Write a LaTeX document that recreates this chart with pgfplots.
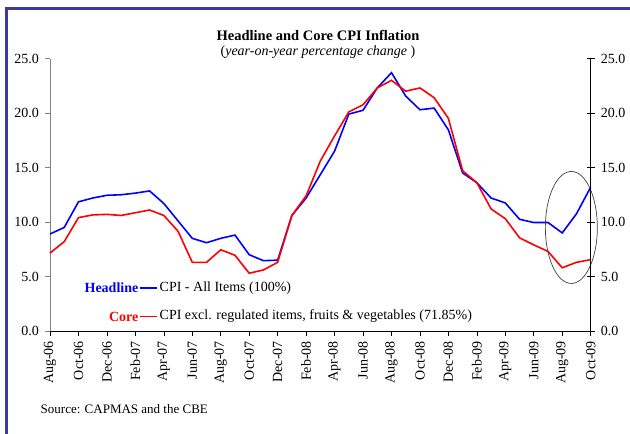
\documentclass[border=0pt]{standalone}
\usepackage{pgfplots}
\pgfplotsset{compat=1.18}
\usepackage{fontspec}
\setmainfont{Liberation Serif}
\definecolor{framecol}{RGB}{58,58,160}
\definecolor{cpiblue}{RGB}{0,0,255}
\definecolor{cpired}{RGB}{255,0,0}
\begin{document}
\fontsize{14}{17}\selectfont
\begin{tikzpicture}[x=1pt,y=1pt]
\useasboundingbox (0,0) rectangle (630,-434);
\draw[framecol, line width=2.6pt] (631,-8.5) -- (6.3,-8.5) -- (6.3,-435);
\node[font=\fontsize{14.5}{17}\selectfont\bfseries] at (318,-35) {Headline and Core CPI Inflation};
\node[font=\fontsize{14}{17}\selectfont] at (318,-52.5) {(\textit{year-on-year percentage change })};
\begin{axis}[
  at={(50pt,-331pt)}, anchor=south west,
  scale only axis, width=540.7pt, height=272.5pt,
  xmin=0, xmax=38, ymin=0, ymax=25,
  axis x line*=bottom, axis y line*=left,
  x axis line style={-, black, line width=0.6pt},
  y axis line style={-, gray, line width=0.9pt},
  xtick={0,2,...,38},
  xticklabels={Aug-06,Oct-06,Dec-06,Feb-07,Apr-07,Jun-07,Aug-07,Oct-07,Dec-07,Feb-08,Apr-08,Jun-08,Aug-08,Oct-08,Dec-08,Feb-09,Apr-09,Jun-09,Aug-09,Oct-09},
  xticklabel style={yshift=-4pt, rotate=90, anchor=east, font=\fontsize{14}{16}\selectfont, inner sep=1pt},
  x tick style={black, line width=0.6pt},
  ytick={0,5,...,25},
  y tick style={gray, line width=0.9pt},
  yticklabel style={xshift=-5pt, font=\fontsize{14}{16}\selectfont, inner sep=1pt},
  /pgf/number format/.cd, fixed, fixed zerofill, precision=1, assume math mode=true,
  /pgfplots/.cd,
  tick align=outside, major tick length=5pt,
  clip=false,
]
\addplot[cpiblue, line width=1.6pt] coordinates {
(0,8.9) (1,9.5) (2,11.85) (3,12.2) (4,12.45) (5,12.5) (6,12.65) (7,12.85)
(8,11.7) (9,10.1) (10,8.5) (11,8.1) (12,8.5) (13,8.8) (14,7.0) (15,6.45)
(16,6.5) (17,10.6) (18,12.2) (19,14.35) (20,16.5) (21,19.9) (22,20.25)
(23,22.3) (24,23.7) (25,21.55) (26,20.3) (27,20.45) (28,18.45) (29,14.5)
(30,13.6) (31,12.2) (32,11.75) (33,10.25) (34,9.95) (35,9.95) (36,9.0)
(37,10.75) (38,13.2)};
\addplot[cpired, line width=1.6pt] coordinates {
(0,7.15) (1,8.2) (2,10.4) (3,10.65) (4,10.7) (5,10.6) (6,10.85) (7,11.1)
(8,10.6) (9,9.15) (10,6.3) (11,6.3) (12,7.45) (13,6.95) (14,5.3) (15,5.6)
(16,6.3) (17,10.6) (18,12.4) (19,15.6) (20,17.9) (21,20.1) (22,20.75)
(23,22.3) (24,23.0) (25,22.0) (26,22.3) (27,21.4) (28,19.5) (29,14.7)
(30,13.6) (31,11.2) (32,10.3) (33,8.55) (34,7.9) (35,7.3) (36,5.8)
(37,6.3) (38,6.55)};
\draw[black!75, line width=0.7pt] (axis cs:36.64,9.5) ellipse [x radius=26pt, y radius=56pt];
\end{axis}
\begin{axis}[
  at={(50pt,-331pt)}, anchor=south west,
  scale only axis, width=540.7pt, height=272.5pt,
  xmin=0, xmax=38, ymin=0, ymax=25,
  axis x line=none, axis y line*=right,
  y axis line style={-, black, line width=0.8pt},
  ytick={0,5,...,25},
  y tick style={black, line width=0.8pt},
  tick align=center, major tick length=8pt,
  yticklabel style={xshift=5pt, font=\fontsize{14}{16}\selectfont, inner sep=1pt},
  /pgf/number format/.cd, fixed, fixed zerofill, precision=1, assume math mode=true,
]
\end{axis}
\node[anchor=east, text=cpiblue, font=\fontsize{14}{17}\selectfont\bfseries, inner sep=0pt] at (138.5,-288) {Headline};
\draw[cpiblue, line width=1.6pt] (139.5,-288) -- (157,-288);
\node[anchor=west, inner sep=0pt] at (159.5,-288) {CPI - All Items (100\%)};
\node[anchor=east, text=cpired, font=\fontsize{14}{17}\selectfont\bfseries, inner sep=0pt] at (138.5,-316.5) {Core};
\draw[cpired, line width=1.6pt] (139.5,-316.5) -- (157,-316.5);
\node[anchor=west, inner sep=0pt] at (159.5,-316.5) {CPI excl. regulated items, fruits \& vegetables (71.85\%)};
\node[anchor=west, inner sep=0pt, font=\fontsize{13}{15}\selectfont] at (40.5,-409) {Source: CAPMAS and the CBE};
\end{tikzpicture}
\end{document}
